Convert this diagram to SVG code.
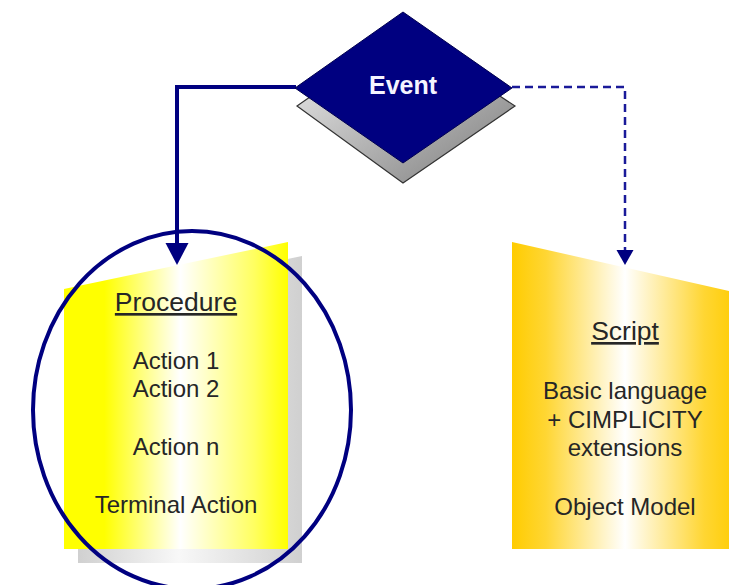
<svg xmlns="http://www.w3.org/2000/svg" width="729" height="585" viewBox="0 0 729 585">
  <style>
    .body { font-family: "Liberation Sans", Arial, sans-serif; font-size: 24px; fill: #262626; text-anchor: middle; }
    .head { font-family: "Liberation Sans", Arial, sans-serif; font-size: 26.5px; fill: #262626; text-anchor: middle; text-decoration: underline; }
    .evt { font-family: "Liberation Sans", Arial, sans-serif; font-size: 25px; font-weight: bold; fill: #f4f4ff; text-anchor: middle; }
    .solid { fill: none; stroke: #000080; stroke-width: 4; }
    .dash { fill: none; stroke: #1a1a99; stroke-width: 2.5; stroke-dasharray: 8 5; }
  </style>
  <defs>
    <linearGradient id="gYellow" x1="0" y1="0" x2="1" y2="0">
      <stop offset="0" stop-color="#ffff00"/>
      <stop offset="0.18" stop-color="#ffff00"/>
      <stop offset="0.52" stop-color="#ffffff"/>
      <stop offset="0.85" stop-color="#ffff60"/>
      <stop offset="1" stop-color="#ffff00"/>
    </linearGradient>
    <linearGradient id="gGold" x1="0" y1="0" x2="1" y2="0">
      <stop offset="0" stop-color="#ffcc00"/>
      <stop offset="0.15" stop-color="#ffd633"/>
      <stop offset="0.5" stop-color="#ffffff"/>
      <stop offset="0.85" stop-color="#ffd633"/>
      <stop offset="1" stop-color="#ffcc00"/>
    </linearGradient>
    <linearGradient id="gShadow" x1="0" y1="0" x2="1" y2="0">
      <stop offset="0" stop-color="#d0d0d0"/>
      <stop offset="0.45" stop-color="#f8f8f8"/>
      <stop offset="1" stop-color="#d0d0d0"/>
    </linearGradient>
    <linearGradient id="gDiaShadow" x1="0" y1="0" x2="1" y2="1">
      <stop offset="0" stop-color="#f4f4f4"/>
      <stop offset="1" stop-color="#7a7a7a"/>
    </linearGradient>
  </defs>

  <g id="connectors">
    <polyline class="solid" points="296,87 177,87 177,245"/>
    <polygon points="165.5,243 188.5,243 177,265" fill="#000080"/>
    <polyline class="dash" points="512,87 625,87 625,251"/>
    <polygon points="616.5,250 633.5,250 625,265" fill="#000080"/>
  </g>

  <g id="procedure">
    <polygon points="78,303 302,256 302,563 78,563" fill="url(#gShadow)"/>
    <polygon points="64,289 288,242 288,549 64,549" fill="url(#gYellow)"/>
    <text class="head" x="176" y="311">Procedure</text>
    <text class="body" x="176" y="369">Action 1</text>
    <text class="body" x="176" y="397">Action 2</text>
    <text class="body" x="176" y="455">Action n</text>
    <text class="body" x="176" y="513">Terminal Action</text>
  </g>

  <g id="highlight-circle">
    <ellipse cx="192" cy="410" rx="159" ry="179" fill="none" stroke="#000080" stroke-width="4"/>
  </g>

  <g id="script">
    <polygon points="512,242 738,293 738,549 512,549" fill="url(#gGold)"/>
    <text class="head" x="625" y="340">Script</text>
    <text class="body" x="625" y="399">Basic language</text>
    <text class="body" x="625" y="428">+ CIMPLICITY</text>
    <text class="body" x="625" y="456">extensions</text>
    <text class="body" x="625" y="515">Object Model</text>
  </g>

  <g id="event">
    <polygon points="403,32 515,106 403,183 297,106" fill="url(#gDiaShadow)" stroke="#333333" stroke-width="1.2"/>
    <polygon points="403,12 512,88 403,163 295,88" fill="#000080" stroke="#000050" stroke-width="1"/>
    <text class="evt" x="403" y="94">Event</text>
  </g>
</svg>
